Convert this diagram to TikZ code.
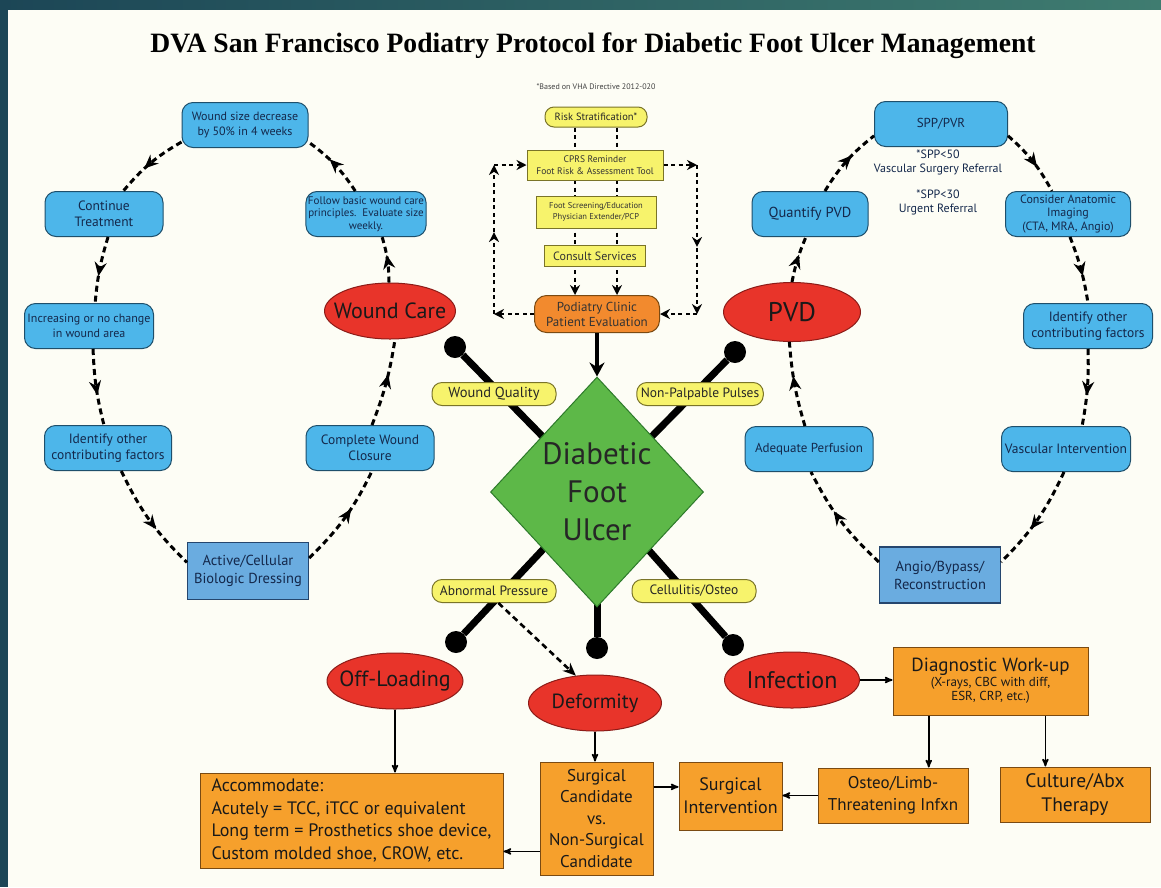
\documentclass[tikz,border=0pt]{standalone}
\usepackage{fontspec}
\setmainfont{PT Sans}
\newfontfamily\titlefont{Liberation Serif}
\usetikzlibrary{arrows,arrows.meta,shapes.geometric,decorations.markings,calc}

\definecolor{paper}{HTML}{FDFDF5}
\definecolor{frameA}{HTML}{1C4656}
\definecolor{frameB}{HTML}{3F7C70}
\definecolor{skyfill}{HTML}{4DB6EA}
\definecolor{skydraw}{HTML}{1E4F6B}
\definecolor{steelfill}{HTML}{6AACE0}
\definecolor{steeldraw}{HTML}{25466E}
\definecolor{navytext}{HTML}{14284B}
\definecolor{redfill}{HTML}{E8342A}
\definecolor{reddraw}{HTML}{8C1C18}
\definecolor{yelfill}{HTML}{F7F36C}
\definecolor{yeldraw}{HTML}{7A7428}
\definecolor{orfill}{HTML}{F6A02C}
\definecolor{ordraw}{HTML}{7A4A12}
\definecolor{podfill}{HTML}{F28A2E}
\definecolor{grfill}{HTML}{5DB848}
\definecolor{grdraw}{HTML}{2D7A2A}

\newcommand{\setfs}[2]{\fontsize{#1}{#2}\selectfont}

\begin{document}
\begin{tikzpicture}[->,>=stealth',x=1pt,y=-1pt]
  \tikzstyle{bluebox}=[rectangle,rounded corners=11pt,fill=skyfill,draw=skydraw,line width=1pt,text=navytext,align=center,minimum height=45pt,inner sep=2pt,font=\setfs{13}{15}]
  \tikzstyle{steelbox}=[rectangle,fill=steelfill,draw=steeldraw,line width=1.2pt,text=navytext,align=center,inner sep=2pt,font=\setfs{14.5}{18}]
  \tikzstyle{cause}=[ellipse,fill=redfill,draw=reddraw,line width=1pt,minimum height=56pt,inner xsep=-16pt,inner ysep=0pt,font=\setfs{22}{24},text=black!90]
  \tikzstyle{orbox}=[rectangle,fill=orfill,draw=ordraw,line width=1pt,align=center,inner sep=3pt,text=black!90]
  \tikzstyle{pill}=[rectangle,rounded corners=10pt,fill=yelfill,draw=yeldraw,line width=1pt,minimum height=23pt,minimum width=124pt,inner xsep=4pt,font=\setfs{13.5}{15},text=black!85]
  \tikzstyle{stackbox}=[rectangle,fill=yelfill,draw=yeldraw,line width=1pt,align=center,inner sep=1pt,text=black!80,font=\setfs{9}{11}]
  \tikzstyle{ball}=[circle,fill=black,draw=none,minimum size=22pt,inner sep=0pt]
  \tikzstyle{spoke}=[-,line width=7pt,black]
  \tikzstyle{cycleline}=[-,line width=3pt,dash pattern=on 6pt off 4pt,postaction={decorate},decoration={markings,mark=at position 0.6 with {\arrow{Stealth[length=14pt,width=12pt]}}}]
  \tikzstyle{dotline}=[line width=2.6pt,dash pattern=on 4pt off 3.5pt,-{Stealth[length=10pt,width=10pt]}]
  \tikzstyle{midtip}=[postaction={decorate},decoration={markings,mark=at position 0.55 with {\arrow{Stealth[length=10pt,width=10pt]}}}]
  \tikzstyle{flow}=[line width=1.6pt]
  \tikzstyle{note}=[align=center,text=navytext,font=\setfs{12}{14}]

  % slide frame and paper
  \fill[paper] (0,0) rectangle (1161,887);
  \shade[left color=frameA,right color=frameB] (0,0) rectangle (1161,9);
  \fill[frameA] (0,0) rectangle (8,887);
  \useasboundingbox (0,0) rectangle (1161,887);

  \node[font=\titlefont\bfseries\setfs{28}{30}] (title) at (593,46) {\scalebox{0.985}[1]{DVA San Francisco Podiatry Protocol for Diabetic Foot Ulcer Management}};
  \node[font=\setfs{8}{10},text=black!75] (basis) at (596,87) {*Based on VHA Directive 2012-020};

  % screening stack
  \node[pill,rounded corners=9pt,minimum width=102pt,minimum height=20pt,font=\setfs{10.5}{12}] (risk) at (596,117) {Risk Stratification*};
  \node[rectangle,rounded corners=12pt,fill=podfill,draw=ordraw,line width=1pt,minimum width=125pt,minimum height=37pt,inner sep=1pt,align=center,font=\setfs{13}{15},text=black!80] (pod) at (597,314) {Podiatry Clinic\\Patient Evaluation};
  \coordinate (sl) at (575,0);
  \coordinate (sr) at (617,0);
  \path (risk.south -| sl) edge[dotline] (pod.north -| sl)
        (risk.south -| sr) edge[dotline] (pod.north -| sr);
  \node[stackbox,minimum width=136pt,minimum height=30pt,font=\setfs{9.5}{11.5}] (cprs) at (595,165) {CPRS Reminder\\Foot Risk \& Assessment Tool};
  \node[stackbox,minimum width=120pt,minimum height=32pt,font=\setfs{8.5}{11}] (screen) at (596,212) {Foot Screening/Education\\Physician Extender/PCP};
  \node[stackbox,minimum width=101pt,minimum height=21pt,font=\setfs{12}{14}] (consult) at (595,256) {Consult Services};

  \coordinate (lb) at (494,314);
  \coordinate (lt) at (494,165);
  \coordinate (rt) at (697,165);
  \coordinate (rb) at (697,314);
  \path (pod) edge[dotline] (lb)
        (lb) edge[dotline,midtip] (lt)
        (lt) edge[dotline] (cprs)
        (cprs) edge[dotline] (rt)
        (rt) edge[dotline,midtip] (rb)
        (rb) edge[dotline] (pod);

  % hub with spokes
  \coordinate (hub) at (597,492);
  \node[ball] (bnw) at (455,347) {};
  \node[ball] (bne) at (735,352) {};
  \node[ball] (bsw) at (456,642) {};
  \node[ball] (bs)  at (597,648) {};
  \node[ball] (bse) at (733,645) {};
  \path (hub) edge[spoke] (bnw) edge[spoke] (bne) edge[spoke] (bsw)
              edge[spoke] (bs) edge[spoke] (bse);
  \node[diamond,fill=grfill,draw=grdraw,line width=1pt,minimum width=213pt,minimum height=230pt,inner sep=0pt,aspect=0.93,align=center,font=\setfs{31}{38},text=black!85] (dfu) at (hub) {Diabetic\\Foot\\Ulcer};
  \path (pod) edge[line width=3.5pt,-{Stealth[length=14pt,width=15pt]}] (dfu);

  \node[pill,font=\setfs{14.5}{16}] (wq)  at (494,394) {Wound Quality};
  \node[pill] (npp) at (700,394) {Non-Palpable Pulses};
  \node[pill] (ap)  at (494,591) {Abnormal Pressure};
  \node[pill] (co)  at (694,591) {Cellulitis/Osteo};

  % wound care cycle
  \node[cause,minimum width=131pt] (wcare) at (390,311) {Wound Care};
  \node[bluebox,minimum width=126pt,font=\setfs{12}{14.5}] (wsize) at (245,125) {Wound size decrease\\by 50\% in 4 weeks};
  \node[bluebox,minimum width=118pt,font=\setfs{13.5}{16}] (cont) at (104,214) {Continue\\Treatment};
  \node[bluebox,minimum width=120pt,font=\setfs{11}{12.5}] (follow) at (366,214) {Follow basic wound care\\principles.\ \ Evaluate size\\weekly.};
  \node[bluebox,minimum width=129pt,font=\setfs{12}{15}] (incr) at (89,326) {Increasing or no change\\in wound area};
  \node[bluebox,minimum width=127pt,font=\setfs{13.5}{16}] (idl) at (108,448) {Identify other\\contributing factors};
  \node[bluebox,minimum width=128pt,font=\setfs{13.5}{16}] (closure) at (370,448) {Complete Wound\\Closure};
  \node[steelbox,minimum width=121pt,minimum height=57pt] (dress) at (248,571) {Active/Cellular\\Biologic Dressing};

  \path (wcare.92) edge[cycleline,bend right=8] (follow.-55)
        (follow.115) edge[cycleline,bend right=10] (wsize.-15)
        (wsize.195) edge[cycleline,bend right=10] (cont.50)
        (cont.-80) edge[cycleline,bend right=6] (incr.75)
        (incr.-80) edge[cycleline,bend right=6] (idl.100)
        (idl.-60) edge[cycleline,bend right=10] (dress.172)
        (dress.12) edge[cycleline,bend right=10] (closure.-85)
        (closure.85) edge[cycleline,bend right=6] (wcare.-80);

  % PVD cycle
  \node[cause,minimum width=137pt,minimum height=59pt,font=\setfs{27}{29}] (pvd) at (792,312) {PVD};
  \node[bluebox,minimum width=133pt] (spp) at (941,124) {SPP/PVR};
  \node[note] (n50) at (938,162) {*SPP<50\\Vascular Surgery Referral};
  \node[note] (n30) at (938,202) {*SPP<30\\Urgent Referral};
  \node[bluebox,minimum width=116pt,font=\setfs{14.5}{16}] (quant) at (810,214) {Quantify PVD};
  \node[bluebox,minimum width=125pt,font=\setfs{12}{13.5}] (imaging) at (1068,214) {Consider Anatomic\\Imaging\\(CTA, MRA, Angio)};
  \node[bluebox,minimum width=129pt,font=\setfs{13.5}{16}] (idr) at (1088,326) {Identify other\\contributing factors};
  \node[bluebox,minimum width=128pt] (perf) at (809,449) {Adequate Perfusion};
  \node[bluebox,minimum width=129pt,font=\setfs{13.5}{15}] (vasc) at (1066,449) {Vascular Intervention};
  \node[steelbox,minimum width=121pt,minimum height=56pt] (angio) at (940,575) {Angio/Bypass/\\Reconstruction};

  \path (pvd.90) edge[cycleline,bend left=6] (quant.-100)
        (quant.57) edge[cycleline,bend left=10] (spp.190)
        (spp.-10) edge[cycleline,bend left=10] (imaging.125)
        (imaging.-85) edge[cycleline,bend left=6] (idr.90)
        (idr.-90) edge[cycleline,bend left=6] (vasc.55)
        (vasc.-95) edge[cycleline,bend left=10] (angio.12)
        (angio.168) edge[cycleline,bend left=10] (perf.-85)
        (perf.100) edge[cycleline,bend left=6] (pvd.-95);

  % lower branches
  \node[cause,minimum width=136pt] (offl) at (395,681) {Off-Loading};
  \node[cause,minimum width=133pt,font=\setfs{20.5}{23}] (deform) at (595,703) {Deformity};
  \node[cause,minimum width=135pt,font=\setfs{24}{26}] (infect) at (792,680) {Infection};
  \path (ap.-70) edge[line width=2.6pt,dash pattern=on 6pt off 4pt,-{Stealth[length=13pt,width=11pt]}] (deform.125);

  \node[orbox,minimum width=303pt,minimum height=95pt,inner sep=2pt,align=left,font=\setfs{18}{22.5}] (accom) at (351.5,820.5) {Accommodate:\\Acutely = TCC, iTCC or equivalent\\Long term = Prosthetics shoe device,\\Custom molded shoe, CROW, etc.};
  \node[orbox,minimum width=113pt,minimum height=113pt,inner sep=1pt,font=\setfs{17}{21.5}] (cand) at (596.5,818.5) {Surgical\\Candidate\\vs.\\Non-Surgical\\Candidate};
  \node[orbox,minimum width=103pt,minimum height=68pt,inner sep=1pt,font=\setfs{18}{23}] (surg) at (730.5,796) {Surgical\\Intervention};
  \node[orbox,minimum width=150pt,minimum height=55pt,font=\setfs{17}{22}] (osteo) at (893,795.5) {Osteo/Limb-\\Threatening Infxn};
  \node[orbox,minimum width=150pt,minimum height=55pt,font=\setfs{19.5}{24}] (abx) at (1075,794.5) {Culture/Abx\\Therapy};
  \node[orbox,minimum width=195pt,minimum height=68pt,font=\setfs{13}{14.5}] (diag) at (990.5,681) {{\setfs{19}{22}Diagnostic Work-up}\\(X-rays, CBC with diff,\\ESR, CRP, etc.)};

  \coordinate (d1) at ($(diag.south west)!0.185!(diag.south east)$);
  \coordinate (d2) at ($(diag.south west)!0.78!(diag.south east)$);
  \path[flow] (offl.south) edge (offl.south |- accom.north)
              (deform.south) edge (deform.south |- cand.north)
              (cand.210) edge (cand.210 -| accom.east)
              (cand.29) edge (cand.29 -| surg.west)
              (osteo.west) edge (osteo.west -| surg.east)
              (infect.east) edge (infect.east -| diag.west)
              (d1) edge (d1 |- osteo.north)
              (d2) edge (d2 |- abx.north);
\end{tikzpicture}
\end{document}
